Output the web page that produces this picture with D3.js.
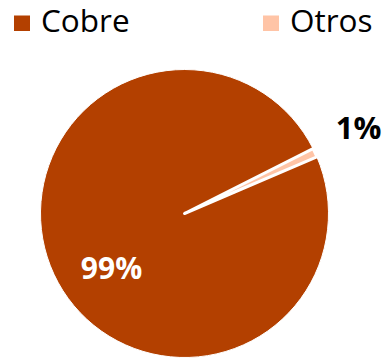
<!DOCTYPE html>
<html><head><meta charset="utf-8">
<script src="https://cdn.jsdelivr.net/npm/d3@7"></script>
<style>html,body{margin:0;padding:0;background:#fff;overflow:hidden}svg{display:block;font-family:"Open Sans",sans-serif}</style>
</head><body>
<svg id="c" width="385" height="358"></svg>
<script>
const categories = ["Cobre", "Otros"];
const values = [99, 1];
const labels = ["99%", "1%"];
const colors = ["#b34000", "#ffc4a6"];

const svg = d3.select("#c");
const cx = 184.5, cy = 213.5, r = 144;
const color = d3.scaleOrdinal().domain(categories).range(colors);

const pie = d3.pie().sort(null).value(d => d.v)
  .startAngle(66.8 * Math.PI / 180).endAngle(66.8 * Math.PI / 180 + 2 * Math.PI);
const data = categories.map((c, i) => ({c, v: values[i], l: labels[i]}));
const arcs = pie(data);
const arc = d3.arc().innerRadius(0).outerRadius(r);

const g = svg.append("g").attr("transform", `translate(${cx},${cy})`);
g.selectAll("path").data(arcs).join("path")
  .attr("d", arc)
  .attr("fill", d => color(d.data.c))
  .attr("stroke", "#fff")
  .attr("stroke-width", d => d.data.c === "Otros" ? 3 : 1)
  .attr("stroke-linejoin", "round");

// labels
const lblPos = {"Cobre": [111.5, 267], "Otros": [358.5, 127]};
const lblSize = {"Cobre": 30, "Otros": 31};
svg.selectAll("text.lbl").data(arcs).join("text").attr("class", "lbl")
  .attr("x", d => lblPos[d.data.c][0]).attr("y", d => lblPos[d.data.c][1])
  .attr("text-anchor", "middle").attr("dominant-baseline", "central")
  .attr("font-size", d => lblSize[d.data.c]).attr("font-weight", "bold")
  .attr("fill", d => d.data.c === "Cobre" ? "#fff" : "#000")
  .text(d => d.data.l);

// legend
const legX = [14, 263];
const lg = svg.selectAll("g.leg").data(categories).join("g").attr("class", "leg")
  .attr("transform", (d, i) => `translate(${legX[i]},0)`);
lg.append("rect").attr("x", 0).attr("y", 15.5).attr("width", 16).attr("height", 15.5)
  .attr("fill", d => color(d));
lg.append("text").attr("x", 27).attr("y", 32).attr("font-size", 31.5).attr("fill", "#000")
  .text(d => d);
</script>
</body></html>
